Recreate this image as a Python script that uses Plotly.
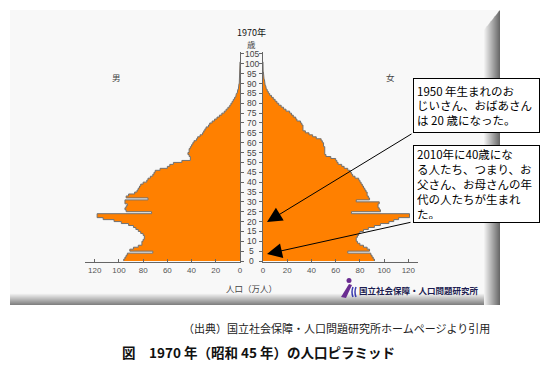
import plotly.graph_objects as go

W, H = 549, 370

# ---- data (万人) ----
ages = list(range(0, 101))
male = [96, 95, 94, 93, 72, 91, 88, 84, 81, 81,
        80, 79, 79, 80, 82, 84, 86, 88, 92, 98,
        104, 113, 118, 118, 73, 94, 95, 94, 93, 95,
        95, 76, 94, 92, 87, 85, 84, 83, 82, 80,
        77, 76, 74, 72, 71, 70, 66, 60, 58, 55,
        48, 41, 41, 42, 43, 42, 42, 41, 40, 39,
        38, 36, 35, 33, 31, 30, 29, 28, 26, 25,
        23, 21, 19, 17, 15, 13, 11.5, 10, 8.5, 7.5,
        6.5, 5.5, 4.5, 3.6, 3, 2.3, 1.8, 1.4, 1.1, 0.8,
        0.6, 0.4, 0.3, 0.2, 0.1, 0.05, 0, 0, 0, 0, 0]
female = [92, 91, 90, 89, 70, 88, 86, 83, 80, 78,
          77, 77, 78, 79, 80, 83, 87, 92, 97, 104,
          108, 112, 121, 121, 73, 97, 96, 95, 95, 96,
          77, 88, 87, 86, 86, 85, 84, 83, 82, 81,
          80, 79, 76, 74, 73, 72, 70, 67, 65, 62,
          61, 60, 56, 52, 51, 51, 51, 51, 50, 50,
          49, 48, 44, 41, 38, 35, 33, 33, 33, 32,
          31, 28, 27, 25, 23.5, 22, 19, 17, 15, 13,
          11.5, 10, 8.5, 7, 5.5, 4.4, 3.5, 2.8, 2.2, 1.8,
          1.5, 1.2, 0.9, 0.7, 0.5, 0.3, 0.1, 0.05, 0, 0, 0]
x_ticks = [0, 20, 40, 60, 80, 100, 120]
age_ticks = list(range(0, 106, 5))

JP = "Noto Sans CJK JP"
NUM = "Liberation Sans"


def px(x):
    return x / W


def py(y):
    return 1 - y / H


def step(vals):
    xs, ys = [], []
    for a, v in zip(ages, vals):
        xs += [v, v]
        ys += [a, a + 1]
    return xs, ys


fig = go.Figure()
mx, my = step(male)
fig.add_trace(go.Scatter(x=mx, y=my, xaxis="x", yaxis="y", mode="lines",
                         fill="tozerox", fillcolor="#FF8000",
                         line=dict(color="#707070", width=1),
                         hoverinfo="skip", showlegend=False))
fx, fy = step(female)
fig.add_trace(go.Scatter(x=fx, y=fy, xaxis="x2", yaxis="y2", mode="lines",
                         fill="tozerox", fillcolor="#FF8000",
                         line=dict(color="#707070", width=1),
                         hoverinfo="skip", showlegend=False))

ydom = [py(262), py(52)]
axcommon = dict(showgrid=False, zeroline=False, showline=True,
                linecolor="#666", linewidth=1, tickcolor="#666")
fig.update_layout(
    width=W, height=H, margin=dict(l=0, r=0, t=0, b=0, autoexpand=False),
    paper_bgcolor="white", plot_bgcolor="rgba(0,0,0,0)",
    xaxis=dict(domain=[px(85), px(240)], range=[128, 0], anchor="y",
               tickvals=x_ticks, ticks="inside", ticklen=3,
               tickfont=dict(size=8, color="#555", family=NUM), **axcommon),
    yaxis=dict(domain=ydom, range=[-0.5, 106], anchor="x", side="right",
               tickvals=age_ticks, ticks="outside", ticklen=3,
               showticklabels=False, **axcommon),
    xaxis2=dict(domain=[px(263), px(418)], range=[0, 128], anchor="y2",
                tickvals=x_ticks, ticks="inside", ticklen=3,
                tickfont=dict(size=8, color="#555", family=NUM), **axcommon),
    yaxis2=dict(domain=ydom, range=[-0.5, 106], anchor="x2", side="left",
                matches="y", tickvals=age_ticks, ticks="outside", ticklen=3,
                showticklabels=False, **axcommon),
)

shapes = []
# panel
shapes.append(dict(type="rect", xref="paper", yref="paper", layer="below",
                   x0=px(10), x1=px(500), y0=py(305), y1=py(10),
                   fillcolor="#f8f8f8", line=dict(width=0)))


def grey(t, a=246, b=110):
    v = int(a + (b - a) * t)
    return f"rgb({v},{v},{v})"


# bottom bevel gradient
nb = 12
for i in range(nb):
    y0 = 293 + i
    shapes.append(dict(type="rect", xref="paper", yref="paper", layer="below",
                       x0=px(10), x1=px(486), y0=py(y0 + 1), y1=py(y0),
                       fillcolor=grey(i / (nb - 1), 246, 130), line=dict(width=0)))
# right bevel gradient
nr = 16
for i in range(nr):
    x0 = 484 + i
    t0 = 30 - (x0 - 484) * 1.25
    t1 = 30 - (x0 + 1 - 484) * 1.25
    path = (f"M {px(x0)} {py(t0)} L {px(x0+1)} {py(t1)} "
            f"L {px(x0+1)} {py(305)} L {px(x0)} {py(305)} Z")
    shapes.append(dict(type="path", xref="paper", yref="paper", layer="below",
                       path=path, fillcolor=grey(i / (nr - 1), 240, 105),
                       line=dict(width=0)))

# logo icon (purple/blue mark)
shapes.append(dict(type="circle", xref="paper", yref="paper",
                   x0=px(346.5), x1=px(351.5), y0=py(283), y1=py(278),
                   fillcolor="#6a2c91", line=dict(width=0)))
shapes.append(dict(type="path", xref="paper", yref="paper",
                   path=(f"M {px(349)} {py(284)} L {px(352)} {py(285)} "
                         f"L {px(346)} {py(298)} L {px(341)} {py(297)} Z"),
                   fillcolor="#6a2c91", line=dict(width=0)))
shapes.append(dict(type="path", xref="paper", yref="paper",
                   path=(f"M {px(353)} {py(287)} Q {px(351)} {py(292)} {px(353)} {py(297)}"),
                   line=dict(color="#3b3bb0", width=1.5)))
shapes.append(dict(type="path", xref="paper", yref="paper",
                   path=(f"M {px(356)} {py(287)} Q {px(354)} {py(292)} {px(356)} {py(297)}"),
                   line=dict(color="#3b3bb0", width=1.5)))
fig.update_layout(shapes=shapes)


def label(x, y, text, size, color, family=JP, xanchor="center"):
    return dict(x=px(x), y=py(y), xref="paper", yref="paper", text=text,
                xanchor=xanchor, yanchor="middle", showarrow=False,
                font=dict(size=size, color=color, family=family))


ann = []
for a in age_ticks:
    ann.append(dict(x=px(251.5), y=a, xref="paper", yref="y", text=str(a),
                    xanchor="center", yanchor="middle", showarrow=False,
                    font=dict(size=8.5, color="#444", family=NUM)))
ann += [
    label(251.5, 32, "1970年", 9, "#111"),
    label(251.5, 44, "歳", 8.5, "#444"),
    label(116, 77, "男", 8.5, "#444"),
    label(390, 77, "女", 8.5, "#444"),
    label(251.5, 288, "人口（万人）", 8.5, "#444"),
    label(357, 290, "<b>国立社会保障・人口問題研究所</b>", 8.5, "#1c1c50",
          xanchor="left"),
    # arrows
    dict(x=px(267), y=py(222), xref="paper", yref="paper", ax=146, ay=-89,
         text="", showarrow=True, arrowhead=2, arrowsize=3, arrowwidth=1,
         arrowcolor="black"),
    dict(x=px(267), y=py(254), xref="paper", yref="paper", ax=145, ay=-32,
         text="", showarrow=True, arrowhead=2, arrowsize=3, arrowwidth=1,
         arrowcolor="black"),
    # text boxes
    dict(x=px(413), y=py(78), xref="paper", yref="paper", xanchor="left",
         yanchor="top", align="left", valign="middle", width=119, height=47,
         text="1950 年生まれのお<br>じいさん、おばあさん<br>は 20 歳になった。",
         showarrow=False, bgcolor="white", bordercolor="black", borderwidth=1,
         borderpad=3, font=dict(size=11.5, color="black", family=JP)),
    dict(x=px(413), y=py(145), xref="paper", yref="paper", xanchor="left",
         yanchor="top", align="left", valign="middle", width=119, height=70,
         text=("2010年に40歳にな<br>る人たち、つまり、お<br>父さん、お母さんの年"
               "<br>代の人たちが生まれ<br>た。"),
         showarrow=False, bgcolor="white", bordercolor="black", borderwidth=1,
         borderpad=3, font=dict(size=11.5, color="black", family=JP)),
    # captions
    label(492, 328, "（出典）国立社会保障・人口問題研究所ホームページより引用",
          11, "#222", xanchor="right"),
    label(120, 352, "<b>図　1970 年（昭和 45 年）の人口ピラミッド</b>",
          13.5, "#111", xanchor="left"),
]
fig.update_layout(annotations=ann)

fig.write_html("out.html", config={"displayModeBar": False},
               post_script="document.body.style.margin='0';document.body.style.overflow='hidden';")
